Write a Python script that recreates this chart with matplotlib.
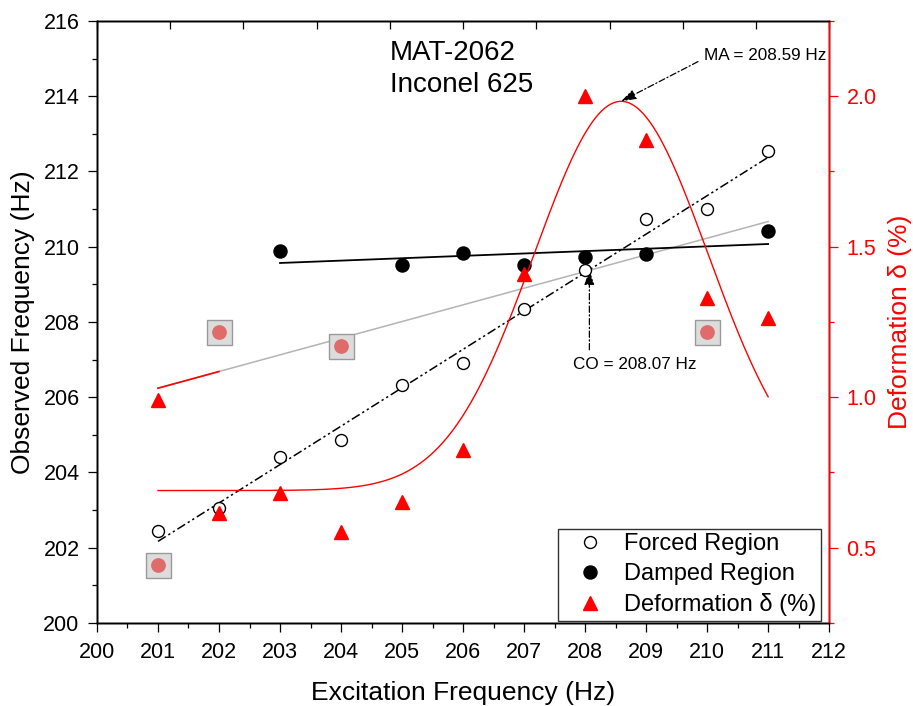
import matplotlib
matplotlib.use("Agg")
import matplotlib.pyplot as plt
import numpy as np

plt.rcParams['font.family'] = ['Liberation Sans', 'DejaVu Sans']

# excitation frequency (Hz)
exc = np.arange(201, 212)

# forced region, observed frequency (Hz)
forced = [202.45, 203.05, 204.40, 204.86, 206.33, 206.91, 208.35, 209.38, 210.73, 211.00, 212.54]

# damped region, observed frequency (Hz)
damped_x = [203, 205, 206, 207, 208, 209, 211]
damped = [209.89, 209.52, 209.83, 209.52, 209.74, 209.81, 210.43]

# deformation delta (%)
deform = [0.992, 0.616, 0.683, 0.553, 0.651, 0.824, 1.411, 2.000, 1.853, 1.330, 1.264]

# masked deformation points (%)
masked_x = [201, 202, 204, 210]
masked = [0.443, 1.217, 1.169, 1.217]

# gauss fit of deformation: y0 + A*exp(-(x-xc)^2 / (2 s^2))
g_y0, g_amp, g_xc, g_sig = 0.690, 1.293, 208.59, 1.428

# reference line (Hz) at 201 and 211, red part up to 202
ref_x = [201, 211]
ref_y = [206.24, 210.67]
ref_red_end = 202

ma_val = 208.59
co_val = 208.07

fig = plt.figure(figsize=(9.13, 7.06), dpi=100)
ax = fig.add_axes([0.1062, 0.1176, 0.802, 0.8527])
ax2 = ax.twinx()

dashdotdot = (0, (6, 2, 1.5, 2, 1.5, 2))

# linear fits
pf = np.polyfit(exc, forced, 1)
ax.plot(exc, np.polyval(pf, exc), color='black', lw=1.1, ls=dashdotdot, zorder=2)
ax.plot(ref_x, ref_y, color='#b4b4b4', lw=1.1, zorder=2)
slope = (ref_y[1] - ref_y[0]) / (ref_x[1] - ref_x[0])
ax.plot([ref_x[0], ref_red_end], [ref_y[0], ref_y[0] + slope * (ref_red_end - ref_x[0])],
        color='red', lw=1.2, zorder=3)
pd = np.polyfit(damped_x, damped, 1)
ax.plot([damped_x[0], damped_x[-1]], np.polyval(pd, [damped_x[0], damped_x[-1]]),
        color='black', lw=1.3, zorder=3)

h1, = ax.plot(exc, forced, 'o', mfc='white', mec='black', ms=8.6, mew=1.0,
              ls='none', label='Forced Region', zorder=4)
h2, = ax.plot(damped_x, damped, 'o', color='black', ms=9.4, ls='none',
              label='Damped Region', zorder=4)

# gauss curve on the deformation axis
xs = np.linspace(201, 211, 400)
gy = g_y0 + g_amp * np.exp(-(xs - g_xc) ** 2 / (2 * g_sig ** 2))
ax2.plot(xs, gy, color='red', lw=1.0, zorder=2)
h3, = ax2.plot(exc, deform, '^', color='red', ms=10.5, ls='none',
               label='Deformation δ (%)', zorder=4)
ax2.plot(masked_x, masked, 's', mfc='#dcdcdc', mec='#9a9a9a', ms=18, mew=1.0,
         ls='none', zorder=3)
ax2.plot(masked_x, masked, 'o', color='#e06b6b', ms=9.6, ls='none', zorder=4)

# annotations
arrow = dict(arrowstyle='-|>,head_length=0.9,head_width=0.3', color='black',
             lw=0.9, ls=(0, (5, 2, 1, 2)), shrinkA=0, shrinkB=0)
peak = g_y0 + g_amp
ax2.annotate('', xy=(ma_val, peak), xytext=(209.85, 2.115), arrowprops=arrow)
ax2.text(209.95, 2.135, 'MA = 208.59 Hz', fontsize=12.3, ha='left', va='center')

ax.annotate('', xy=(co_val, np.polyval(pf, co_val)), xytext=(co_val, 207.26),
            arrowprops=arrow)
ax.text(208.82, 206.88, 'CO = 208.07 Hz', fontsize=12.3, ha='center', va='center')

ax.text(204.8, 215.15, 'MAT-2062', fontsize=20, ha='left', va='center')
ax.text(204.8, 214.3, 'Inconel 625', fontsize=20, ha='left', va='center')

# axes
ax.set_xlim(200, 212)
ax.set_ylim(200, 216)
ax2.set_ylim(0.25, 2.25)
ax.set_xticks(np.arange(200, 213, 1))
ax.set_xticks(np.arange(200.5, 212, 1), minor=True)
ax.set_yticks(np.arange(200, 217, 2))
ax.set_yticks(np.arange(201, 216, 2), minor=True)
ax2.set_yticks([0.5, 1.0, 1.5, 2.0])
ax2.set_yticks([0.25, 0.75, 1.25, 1.75, 2.25], minor=True)

ax.tick_params(which='major', length=6.5, width=0.9, labelsize=15.5, pad=6)
ax.tick_params(axis='x', which='major', pad=7.5)
ax.tick_params(which='minor', length=3.6, width=0.9)
ax2.tick_params(which='major', length=6.5, width=0.9, labelsize=15.5, pad=6,
                color='red', labelcolor='red')
ax2.tick_params(which='minor', length=3.6, width=0.9, color='red')

# inward ticks along the top edge
ax3 = ax.twiny()
ax3.set_xlim(0, 10)
ax3.set_xticks(np.arange(0, 11, 1))
ax3.tick_params(axis='x', direction='in', length=6, width=0.9, labeltop=False)

for a in (ax, ax2, ax3):
    for s in a.spines.values():
        s.set_linewidth(1.0)
ax2.spines['right'].set_color('red')
ax3.spines['right'].set_color('red')

ax.set_xlabel('Excitation Frequency (Hz)', fontsize=19, labelpad=13)
ax.set_ylabel('Observed Frequency (Hz)', fontsize=19, labelpad=6)
ax2.set_ylabel('Deformation δ (%)', fontsize=19, color='red', labelpad=8)

leg = ax3.legend(handles=[h1, h2, h3], loc='lower right', fontsize=17,
                 frameon=True, fancybox=False, edgecolor='black',
                 bbox_to_anchor=(0.992, 0.0), borderaxespad=0.1,
                 handlelength=2.3, handletextpad=0.3, labelspacing=0.33,
                 borderpad=0.2)
leg.get_frame().set_linewidth(1.0)
leg.set_zorder(10)

fig.savefig('out.png', dpi=100)
